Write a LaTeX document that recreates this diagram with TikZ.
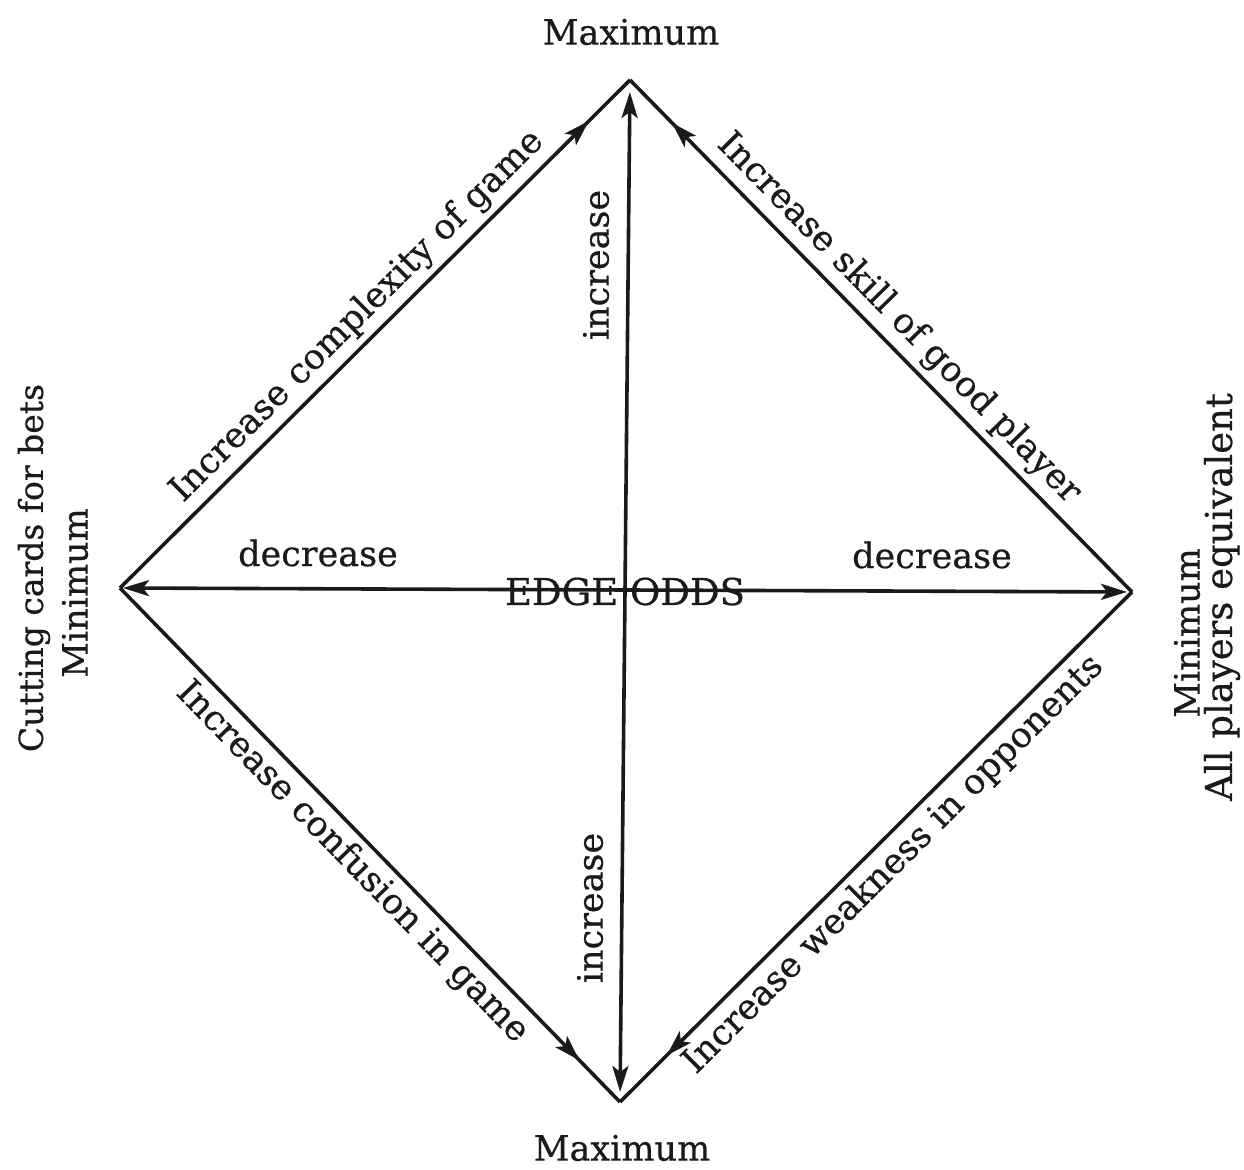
\documentclass[tikz,border=0pt]{standalone}
\usepackage{fontspec}
\setmainfont[FakeBold=0.5]{DejaVu Serif}
\usetikzlibrary{arrows.meta,decorations.markings,calc}
\definecolor{ink}{HTML}{1A1A1A}
\begin{document}
\begin{tikzpicture}[x=0.5pt,y=0.5pt,
  lbl/.style={font=\fontsize{17.5}{20}\selectfont, text=ink, inner sep=3pt},
  diamline/.style={line width=1.8pt, draw=ink},
  midtip/.style={postaction={decorate}, decoration={markings, mark=at position #1 with {\arrow{Stealth[length=13pt,width=8pt,inset=3pt]}}}}
]
\useasboundingbox (0,0) rectangle (1244,1169);
\coordinate (T) at (630,1089);
\coordinate (B) at (620,67);
\coordinate (L) at (120,581);
\coordinate (R) at (1132,577);

% diamond edges
\draw[diamline, midtip=-29pt] (L) -- node[lbl, sloped, above] {Increase complexity of game} (T);
\draw[diamline, midtip=-30pt] (R) -- node[lbl, sloped, above] {Increase skill of good player} (T);
\draw[diamline, midtip=-29pt] (L) -- node[lbl, sloped, below] {Increase confusion in game} (B);
\draw[diamline, midtip=-33pt] (R) -- node[lbl, sloped, below] {Increase weakness in opponents} (B);

% axes
\draw[diamline, {Stealth[length=13pt,width=8pt,inset=3pt]}-{Stealth[length=13pt,width=8pt,inset=3pt]}, shorten <=6pt, shorten >=5pt] (T) -- (B);
\draw[diamline, {Stealth[length=13pt,width=8pt,inset=3pt]}-{Stealth[length=13pt,width=8pt,inset=3pt]}, shorten <=1.5pt, shorten >=2.5pt] (L) -- (R);

% labels
\node[lbl] (maxtop) at (631,1137) {Maximum};
\node[lbl] (maxbot) at (622,21) {Maximum};
\node[lbl] (decl) at (318,616) {decrease};
\node[lbl] (decr) at (932,614) {decrease};
\node[lbl, anchor=base, font=\fontsize{18.5}{20}\selectfont] (edge) at (625,564) {EDGE ODDS};
\node[lbl, rotate=90] (inct) at (596,904) {increase};
\node[lbl, rotate=90] (incb) at (590,261) {increase};
\node[lbl, rotate=90, font=\fontsize{16.5}{20}\selectfont] (cut) at (34,601) {Cutting cards for bets};
\node[lbl, rotate=90] (minl) at (75,576) {Minimum};
\node[lbl, rotate=90] (minr) at (1187,536) {Minimum};
\node[lbl, rotate=90, font=\fontsize{18.5}{20}\selectfont] (allp) at (1222,572) {All players equivalent};
\end{tikzpicture}
\end{document}
